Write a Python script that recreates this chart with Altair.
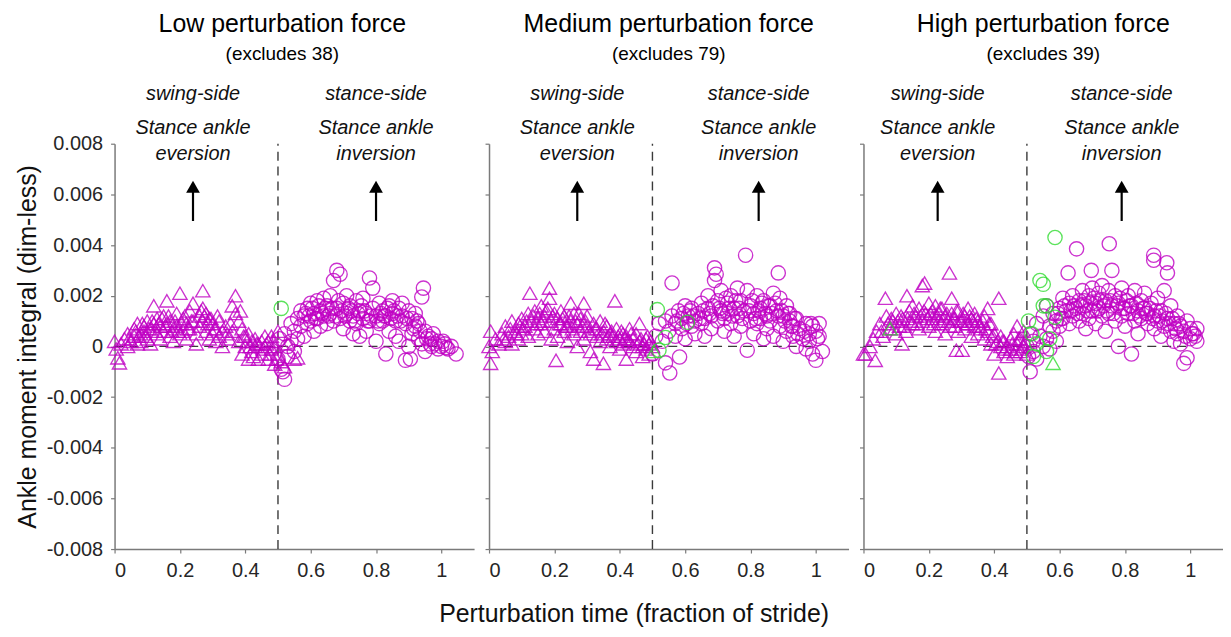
import altair as alt
import pandas as pd

FONT = "Liberation Sans"

# ---------------- data (t = fraction of stride, v = moment integral in 1e-3 units) ----------------
LOW_SWING = [(0.00,0.2),(0.005,-0.1),(0.01,-0.45),(0.015,-0.65),(0.02,0.1),(0.03,0.3),(0.04,0.0),(0.04,0.5),(0.05,0.2),(0.06,0.7),
 (0.06,0.4),(0.07,0.1),(0.07,0.9),(0.08,0.5),(0.08,0.2),(0.09,0.8),(0.09,0.6),(0.10,1.0),(0.10,0.3),(0.11,0.7),(0.11,0.1),(0.12,1.6),
 (0.12,0.9),(0.13,0.5),(0.13,1.1),(0.14,0.8),(0.14,0.3),(0.15,1.2),(0.15,0.6),(0.16,1.8),(0.16,0.9),(0.17,0.4),(0.17,1.0),(0.18,0.7),
 (0.18,0.2),(0.19,1.3),(0.19,0.8),(0.20,2.1),(0.20,0.5),(0.21,1.1),(0.21,0.6),(0.22,0.9),(0.22,0.3),(0.23,1.4),(0.23,0.7),(0.24,1.7),
 (0.24,1.0),(0.25,0.5),(0.25,0.1),(0.26,1.2),(0.26,0.8),(0.27,2.2),(0.27,1.5),(0.27,1.0),(0.28,1.3),(0.28,0.6),(0.29,1.1),(0.29,0.3),
 (0.30,0.9),(0.30,0.5),(0.31,0.7),(0.31,0.2),(0.32,1.0),(0.32,0.4),(0.33,0.6),(0.33,0.0),(0.34,0.8),(0.35,0.3),(0.36,1.6),(0.36,0.6),
 (0.37,2.0),(0.37,1.3),(0.38,1.0),(0.38,0.2),(0.39,0.7),(0.39,-0.3),(0.40,0.4),(0.40,0.0),(0.41,0.5),(0.41,-0.5),(0.42,0.2),(0.42,-0.2),
 (0.43,0.0),(0.43,0.3),(0.44,-0.5),(0.44,0.1),(0.45,0.2),(0.45,-0.3),(0.46,0.0),(0.46,0.4),(0.47,-0.5),(0.47,0.2),(0.48,-0.1),(0.48,0.4),
 (0.49,-0.7),(0.49,0.0),(0.50,-0.3),(0.50,0.6),(0.51,-0.6),(0.52,-0.8),(0.53,0.1),(0.55,-0.5),(0.56,-0.45),
 (0.045,0.3),(0.065,0.6),(0.075,0.4),(0.085,0.9),(0.095,0.4),(0.105,0.7),(0.115,1.0),(0.125,0.6),(0.135,0.9),(0.145,1.1),(0.155,0.8),
 (0.165,1.2),(0.175,0.6),(0.185,1.0),(0.195,0.6),(0.205,0.9),(0.215,1.2),(0.225,0.7),(0.235,1.0),(0.265,1.4),(0.275,1.2),(0.285,0.9),
 (0.295,1.1),(0.305,0.7),(0.315,1.2),(0.345,0.5),(0.355,0.9),(0.385,1.4),(0.395,0.4),(0.405,0.2),(0.415,0.0),(0.425,-0.4),(0.435,0.1),
 (0.455,-0.1),(0.465,0.1),(0.475,-0.3),(0.485,0.2),(0.495,-0.5)]
LOW_STANCE = [(0.50,-0.5),(0.505,0.3),(0.51,-0.9),(0.515,-1.0),(0.52,-1.3),(0.52,0.5),(0.53,0.0),(0.53,-0.4),(0.54,0.9),(0.54,0.2),
 (0.55,0.6),(0.55,-0.2),(0.56,1.1),(0.56,0.3),(0.57,0.8),(0.57,1.4),(0.58,1.2),(0.58,0.4),(0.59,1.5),(0.59,0.9),(0.60,1.0),(0.60,1.7),
 (0.61,1.3),(0.61,0.6),(0.62,1.8),(0.62,1.1),(0.63,1.4),(0.63,0.8),(0.64,1.9),(0.64,1.2),(0.65,1.6),(0.65,0.9),(0.66,2.0),(0.66,1.3),
 (0.67,2.6),(0.67,1.0),(0.68,3.0),(0.68,1.5),(0.69,2.85),(0.69,1.1),(0.70,1.7),(0.70,0.7),(0.71,1.3),(0.71,2.0),(0.72,1.0),(0.72,1.6),
 (0.73,0.5),(0.73,1.2),(0.74,1.8),(0.74,0.9),(0.75,1.4),(0.75,0.4),(0.76,1.1),(0.76,1.9),(0.77,1.3),(0.77,0.6),(0.78,2.7),(0.78,1.0),
 (0.79,2.3),(0.79,1.5),(0.80,1.2),(0.80,0.2),(0.81,1.7),(0.81,0.9),(0.82,1.4),(0.82,1.0),(0.83,-0.3),(0.83,1.2),(0.84,1.6),(0.84,0.6),
 (0.85,1.3),(0.85,1.8),(0.86,1.0),(0.86,0.4),(0.87,1.5),(0.87,0.2),(0.88,1.2),(0.88,1.7),(0.89,-0.55),(0.89,0.9),(0.90,1.4),(0.90,0.0),
 (0.905,-0.5),(0.91,1.1),(0.91,0.5),(0.92,0.8),(0.92,1.3),(0.93,0.3),(0.93,0.9),(0.94,1.95),(0.94,0.1),(0.945,2.3),(0.95,0.6),(0.95,-0.2),
 (0.96,0.4),(0.97,0.0),(0.97,0.3),(0.98,0.1),(0.99,-0.1),(0.99,0.2),(1.00,0.0),(1.01,0.1),(1.02,-0.1),(1.03,0.0),(1.045,-0.3),
 (0.585,1.3),(0.595,1.2),(0.605,1.5),(0.615,1.1),(0.625,1.6),(0.635,1.3),(0.645,1.5),(0.655,1.2),(0.665,1.5),(0.675,1.2),(0.685,1.8),
 (0.695,1.4),(0.705,1.2),(0.715,1.5),(0.725,1.4),(0.735,1.0),(0.745,1.3),(0.755,1.6),(0.765,1.4),(0.775,1.0),(0.785,1.2),(0.805,1.0),
 (0.815,1.3),(0.825,1.2),(0.835,1.5),(0.845,1.1),(0.855,1.4),(0.865,1.2),(0.875,1.0),(0.895,1.1),(0.915,0.7),(0.925,1.0),(0.935,0.6),
 (0.955,0.3),(0.965,0.1),(0.975,0.5),(1.005,0.2),(1.015,-0.05)]
LOW_GREEN_SWING = []
LOW_GREEN_STANCE = [(0.51,1.5)]

MED_SWING = [(0.00,0.0),(0.005,0.6),(0.005,-0.67),(0.01,-0.2),(0.02,0.3),(0.03,0.1),(0.04,0.5),(0.05,0.2),(0.05,0.8),(0.06,0.4),
 (0.07,1.0),(0.07,0.1),(0.08,0.6),(0.09,0.9),(0.09,0.3),(0.10,1.1),(0.10,0.5),(0.11,0.8),(0.12,1.3),(0.12,0.4),(0.125,2.1),(0.13,1.0),
 (0.14,0.7),(0.14,1.4),(0.15,1.1),(0.15,0.5),(0.16,1.6),(0.16,0.9),(0.17,1.2),(0.17,0.6),(0.18,1.5),(0.185,2.3),(0.185,1.9),(0.19,1.0),
 (0.19,0.3),(0.20,1.3),(0.20,0.7),(0.205,-0.55),(0.21,1.1),(0.21,0.4),(0.22,0.9),(0.22,1.4),(0.23,0.6),(0.23,1.2),(0.24,0.8),(0.24,0.2),
 (0.25,1.7),(0.25,1.0),(0.26,0.5),(0.26,1.3),(0.27,0.9),(0.27,0.0),(0.28,1.1),(0.28,0.6),(0.29,1.7),(0.29,0.3),(0.30,0.8),(0.30,1.2),
 (0.31,0.5),(0.31,-0.2),(0.32,-0.5),(0.32,0.9),(0.33,0.4),(0.33,0.7),(0.34,1.0),(0.34,0.2),(0.35,-0.67),(0.35,0.6),(0.36,0.3),(0.36,0.8),
 (0.37,0.5),(0.37,0.0),(0.385,1.8),(0.38,0.4),(0.39,0.2),(0.39,0.7),(0.40,0.3),(0.40,-0.1),(0.41,0.5),(0.41,0.1),(0.42,-0.5),(0.42,0.4),
 (0.43,0.2),(0.43,0.7),(0.44,0.0),(0.44,0.3),(0.45,0.5),(0.45,-0.2),(0.46,0.2),(0.46,0.9),(0.47,0.0),(0.47,-0.4),(0.48,0.3),(0.48,-0.1),
 (0.49,0.1),(0.49,-0.3),(0.50,0.0),
 (0.045,0.3),(0.065,0.7),(0.085,0.5),(0.095,0.8),(0.105,0.7),(0.115,1.0),(0.135,1.2),(0.145,0.9),(0.155,1.3),(0.165,1.0),(0.175,1.4),
 (0.195,1.2),(0.215,0.9),(0.225,1.1),(0.235,0.8),(0.245,1.2),(0.255,0.7),(0.265,1.0),(0.275,1.3),(0.285,0.8),(0.295,1.0),(0.305,0.6),
 (0.325,0.7),(0.345,0.5),(0.355,0.9),(0.365,0.4),(0.375,0.6),(0.395,0.4),(0.405,0.6),(0.415,0.3),(0.425,0.2),(0.435,0.5),(0.455,0.1),
 (0.465,0.3),(0.475,0.1),(0.485,0.4),(0.495,0.2)]
MED_STANCE = [(0.50,-0.3),(0.51,0.4),(0.52,0.9),(0.53,0.2),(0.54,-0.65),(0.54,1.0),(0.55,0.6),(0.553,-1.05),(0.56,2.5),(0.56,1.2),
 (0.57,0.4),(0.57,0.9),(0.58,1.4),(0.583,-0.42),(0.59,0.7),(0.59,1.1),(0.60,1.6),(0.60,0.3),(0.61,1.2),(0.62,0.8),(0.62,1.5),(0.63,1.0),
 (0.63,0.5),(0.64,1.3),(0.65,0.9),(0.65,1.7),(0.66,1.1),(0.66,0.4),(0.67,1.5),(0.67,2.0),(0.68,1.2),(0.68,0.7),(0.69,3.1),(0.69,2.6),
 (0.695,2.85),(0.70,1.8),(0.70,1.0),(0.71,1.4),(0.71,2.2),(0.72,1.1),(0.72,0.6),(0.73,1.7),(0.73,1.3),(0.74,2.0),(0.74,0.9),(0.75,1.5),
 (0.75,0.4),(0.76,1.2),(0.76,2.3),(0.77,1.8),(0.77,0.8),(0.78,1.4),(0.785,3.6),(0.79,-0.15),(0.79,2.2),(0.80,1.0),(0.80,1.6),(0.81,0.5),
 (0.81,1.3),(0.82,2.0),(0.82,0.9),(0.83,1.5),(0.83,1.1),(0.84,0.3),(0.84,1.8),(0.85,1.2),(0.85,0.7),(0.86,1.6),(0.86,1.0),(0.87,2.1),
 (0.87,0.4),(0.88,1.4),(0.885,2.9),(0.89,0.8),(0.89,1.9),(0.90,1.2),(0.90,0.2),(0.91,1.6),(0.91,0.6),(0.92,1.0),(0.92,1.3),(0.93,0.4),
 (0.93,0.8),(0.94,1.1),(0.94,0.0),(0.95,0.7),(0.96,0.3),(0.97,0.9),(0.97,-0.1),(0.98,0.5),(0.98,0.2),(0.99,0.8),(0.99,-0.3),(1.00,-0.55),
 (1.00,0.6),(1.01,0.4),(1.01,0.9),(1.02,-0.2),
 (0.575,1.0),(0.595,1.3),(0.605,0.9),(0.615,1.4),(0.625,1.2),(0.645,1.1),(0.655,1.4),(0.675,1.3),(0.685,1.6),(0.705,1.5),(0.715,1.3),
 (0.725,1.9),(0.735,1.5),(0.745,1.2),(0.755,1.8),(0.765,1.5),(0.775,1.1),(0.795,1.4),(0.805,1.8),(0.815,1.1),(0.825,1.4),(0.835,1.7),
 (0.845,1.3),(0.855,1.6),(0.865,1.3),(0.875,1.7),(0.885,1.2),(0.895,1.4),(0.905,1.0),(0.915,1.3),(0.925,0.8),(0.935,1.1),(0.945,0.5),
 (0.965,0.6),(0.985,0.9),(1.005,0.3)]
MED_GREEN_SWING = [(0.505,-0.2)]
MED_GREEN_STANCE = [(0.515,1.45),(0.54,0.35),(0.52,-0.15),(0.607,0.95)]

HIGH_SWING = [(0.00,-0.3),(0.006,-0.3),(0.02,0.0),(0.03,0.3),(0.036,-0.55),(0.04,0.6),(0.05,0.9),(0.06,0.4),(0.067,1.9),(0.07,1.2),
 (0.08,0.7),(0.09,1.0),(0.10,0.5),(0.10,1.3),(0.11,0.8),(0.118,0.1),(0.12,1.1),(0.13,0.6),(0.133,2.0),(0.14,1.4),(0.15,0.9),(0.15,1.6),
 (0.16,1.2),(0.17,0.7),(0.17,1.5),(0.18,2.4),(0.187,2.5),(0.18,1.0),(0.19,1.3),(0.20,0.8),(0.20,1.7),(0.21,1.1),(0.21,1.4),(0.22,0.6),
 (0.22,1.6),(0.23,1.0),(0.23,1.3),(0.24,0.9),(0.24,1.5),(0.25,1.2),(0.25,0.5),(0.263,2.9),(0.26,1.0),(0.27,1.9),(0.27,1.3),(0.28,0.8),
 (0.28,1.1),(0.284,-0.15),(0.29,1.4),(0.29,0.6),(0.30,1.0),(0.302,-0.15),(0.31,1.2),(0.31,0.7),(0.32,0.9),(0.32,1.5),(0.33,1.1),(0.33,0.4),
 (0.34,0.8),(0.34,1.3),(0.35,1.0),(0.35,0.5),(0.36,0.7),(0.37,1.2),(0.37,0.3),(0.38,0.6),(0.38,1.5),(0.39,0.9),(0.39,0.1),(0.40,0.5),
 (0.40,-0.3),(0.41,0.2),(0.414,1.9),(0.414,-1.05),(0.42,0.0),(0.42,0.4),(0.43,-0.2),(0.43,0.2),(0.44,0.0),(0.44,-0.4),(0.45,0.3),(0.45,-0.1),
 (0.46,0.5),(0.46,-0.3),(0.47,0.1),(0.47,0.8),(0.48,-0.2),(0.48,0.3),(0.49,0.0),(0.49,0.6),(0.50,-0.3),
 (0.055,0.6),(0.075,0.9),(0.085,1.1),(0.095,0.7),(0.105,1.0),(0.115,1.2),(0.125,0.8),(0.135,1.1),(0.145,1.0),(0.155,1.3),(0.165,0.9),
 (0.175,1.2),(0.185,1.4),(0.195,1.1),(0.205,1.3),(0.215,0.9),(0.225,1.2),(0.235,1.5),(0.245,1.1),(0.255,1.3),(0.265,0.8),(0.275,1.1),
 (0.285,1.4),(0.295,1.0),(0.305,1.3),(0.315,0.9),(0.325,1.2),(0.335,1.0),(0.345,1.1),(0.355,0.8),(0.365,1.0),(0.375,0.7),(0.385,0.9),
 (0.395,0.4),(0.405,0.1),(0.425,0.2),(0.435,-0.1),(0.455,0.1),(0.465,-0.2),(0.475,0.3),(0.485,-0.1),(0.495,0.2)]
HIGH_STANCE = [(0.50,0.0),(0.505,-0.4),(0.51,-1.0),(0.51,0.5),(0.52,0.2),(0.52,-0.2),(0.53,0.9),(0.53,-0.5),(0.54,0.4),(0.55,1.2),
 (0.55,0.0),(0.56,1.6),(0.56,0.3),(0.57,0.8),(0.57,-0.1),(0.58,1.3),(0.58,0.6),(0.59,1.0),(0.59,0.2),(0.60,1.5),(0.60,0.8),(0.61,1.9),
 (0.61,1.1),(0.62,1.4),(0.626,2.9),(0.63,0.9),(0.63,1.7),(0.64,1.2),(0.64,2.0),(0.65,1.5),(0.652,3.85),(0.66,1.0),(0.66,1.8),(0.67,2.2),
 (0.67,1.3),(0.68,1.6),(0.68,0.7),(0.69,2.0),(0.69,1.1),(0.697,3.0),(0.70,1.4),(0.70,2.3),(0.71,1.7),(0.71,0.9),(0.72,2.1),(0.72,1.5),
 (0.73,1.2),(0.73,2.4),(0.74,1.8),(0.74,0.6),(0.75,2.2),(0.752,4.05),(0.75,1.3),(0.76,3.0),(0.76,1.6),(0.77,2.0),(0.77,1.0),(0.78,0.0),
 (0.78,1.7),(0.79,2.3),(0.79,1.2),(0.80,1.5),(0.80,0.8),(0.81,2.0),(0.81,1.3),(0.82,-0.3),(0.82,1.6),(0.83,2.2),(0.83,1.0),(0.84,1.4),
 (0.84,0.5),(0.85,1.8),(0.85,1.1),(0.86,1.5),(0.86,2.1),(0.87,0.9),(0.87,1.3),(0.88,1.7),(0.888,3.6),(0.888,3.4),(0.89,0.7),(0.89,1.2),
 (0.90,1.9),(0.90,1.0),(0.91,1.4),(0.91,0.4),(0.92,2.2),(0.92,0.8),(0.928,3.3),(0.93,2.9),(0.93,1.1),(0.94,0.6),(0.94,1.6),(0.95,0.9),
 (0.95,0.2),(0.96,1.2),(0.96,0.5),(0.97,0.8),(0.97,0.1),(0.98,-0.67),(0.98,0.6),(0.99,-0.45),(0.99,1.0),(1.00,0.3),(1.00,0.7),(1.01,0.5),
 (1.02,0.2),(1.02,0.7),
 (0.595,1.3),(0.605,1.1),(0.615,1.6),(0.635,1.4),(0.645,1.6),(0.655,1.3),(0.665,1.6),(0.675,1.8),(0.685,1.4),(0.695,1.7),(0.705,1.9),
 (0.715,1.4),(0.725,1.8),(0.735,1.6),(0.745,1.4),(0.755,1.8),(0.765,1.3),(0.775,1.6),(0.785,1.9),(0.795,1.5),(0.805,1.8),(0.815,1.6),
 (0.825,1.3),(0.835,1.7),(0.845,1.2),(0.855,1.5),(0.865,1.3),(0.875,1.5),(0.885,1.1),(0.895,1.4),(0.905,1.2),(0.915,1.0),(0.925,1.3),
 (0.935,0.9),(0.945,1.1),(0.955,0.7),(0.965,0.9),(0.985,0.4),(1.005,0.5),(1.015,0.4)]
HIGH_GREEN_SWING = [(0.082,0.7),(0.58,-0.67)]
HIGH_GREEN_STANCE = [(0.586,4.3),(0.54,2.6),(0.55,2.45),(0.55,1.6),(0.586,1.15),(0.505,1.0),(0.515,0.5),(0.53,0.1),
 (0.56,-0.2),(0.52,-0.4),(0.57,0.3),(0.56,1.6)]

TITLES = ["Low perturbation force", "Medium perturbation force", "High perturbation force"]
SUBTITLES = ["(excludes 38)", "(excludes 79)", "(excludes 39)"]
SWING_X = [0.24, 0.27, 0.227]
STANCE_X = [0.80, 0.825, 0.79]
ANN_SWING = ["swing-side", "Stance ankle", "eversion"]
ANN_STANCE = ["stance-side", "Stance ankle", "inversion"]
ANN_Y = [9.95, 8.61, 7.59]          # 1e-3 units
ARROW_TAIL, ARROW_HEAD = 4.95, 6.3  # 1e-3 units

Y_TICKS = [-0.008, -0.006, -0.004, -0.002, 0, 0.002, 0.004, 0.006, 0.008]
X_TICKS = [0, 0.2, 0.4, 0.6, 0.8, 1]

MAGENTA = "#c000c4"
GREEN = "#33dd33"
AXIS_GRAY = "#7a7a7a"


def rows(pts, side, grp):
    return [{"t": t, "v": v * 1e-3, "side": side, "grp": grp} for t, v in pts]


def panel(i, swing, stance, gswing, gstance, show_y):
    recs = rows(swing, "swing", "main") + rows(stance, "stance", "main") + \
        rows(gswing, "swing", "green") + rows(gstance, "stance", "green")
    df = pd.DataFrame(recs)

    xs = alt.Scale(domain=[0, 1.1], nice=False, zero=False)
    ys = alt.Scale(domain=[-0.008, 0.008], nice=False, zero=False)
    xaxis = alt.Axis(values=X_TICKS, format="~g", title=None, grid=False)
    if show_y:
        yaxis = alt.Axis(values=Y_TICKS, grid=False,
                         labelExpr="datum.value == 0 ? '0' : replace(format(datum.value, '.3f'), '\u2212', '-')",
                         title="Ankle moment integral (dim-less)")
    else:
        yaxis = alt.Axis(values=Y_TICKS, grid=False, labels=False, title=None)

    pts = alt.Chart(df).mark_point(filled=False, size=205, strokeWidth=1.35, opacity=0.8).encode(
        x=alt.X("t:Q", scale=xs, axis=xaxis),
        y=alt.Y("v:Q", scale=ys, axis=yaxis),
        shape=alt.Shape("side:N", scale=alt.Scale(domain=["swing", "stance"], range=["triangle-up", "circle"]), legend=None),
        color=alt.Color("grp:N", scale=alt.Scale(domain=["main", "green"], range=[MAGENTA, GREEN]), legend=None),
    )

    hline = alt.Chart(pd.DataFrame({"x": [0], "x2": [1], "y": [0]})).mark_rule(
        strokeDash=[9, 6], color="#3a3a3a", strokeWidth=1.4).encode(
        x=alt.X("x:Q", scale=xs), x2="x2:Q", y=alt.Y("y:Q", scale=ys))
    vline = alt.Chart(pd.DataFrame({"x": [0.5], "y": [-0.008], "y2": [0.008]})).mark_rule(
        strokeDash=[9, 6], color="#3a3a3a", strokeWidth=1.4).encode(
        x=alt.X("x:Q", scale=xs), y=alt.Y("y:Q", scale=ys), y2="y2:Q")

    ann = pd.DataFrame(
        [{"x": SWING_X[i], "y": y * 1e-3, "label": s} for s, y in zip(ANN_SWING, ANN_Y)] +
        [{"x": STANCE_X[i], "y": y * 1e-3, "label": s} for s, y in zip(ANN_STANCE, ANN_Y)])
    text = alt.Chart(ann).mark_text(font=FONT, fontSize=20, fontStyle="italic", color="#111",
                                    align="center", baseline="middle").encode(
        x=alt.X("x:Q", scale=xs), y=alt.Y("y:Q", scale=ys), text="label:N")

    arr = pd.DataFrame({"x": [SWING_X[i], STANCE_X[i]], "y": [ARROW_TAIL * 1e-3] * 2,
                        "y2": [ARROW_HEAD * 1e-3 - 0.0002] * 2, "yh": [ARROW_HEAD * 1e-3] * 2})
    shaft = alt.Chart(arr).mark_rule(color="black", strokeWidth=2.2).encode(
        x=alt.X("x:Q", scale=xs), y=alt.Y("y:Q", scale=ys), y2="y2:Q")
    head = alt.Chart(arr).mark_point(shape="triangle-up", filled=True, color="black", size=190, opacity=1).encode(
        x=alt.X("x:Q", scale=xs), y=alt.Y("yh:Q", scale=ys))

    return alt.layer(hline, vline, pts, text, shaft, head).properties(
        width=361, height=407,
        title=alt.TitleParams(TITLES[i], subtitle=SUBTITLES[i], fontSize=25, subtitleFontSize=19,
                              font=FONT, subtitleFont=FONT, fontWeight="normal", color="black",
                              subtitleColor="black", anchor="middle", frame="group",
                              subtitlePadding=9, offset=20, dx=-12 if i == 0 else 0))


p1 = panel(0, LOW_SWING, LOW_STANCE, LOW_GREEN_SWING, LOW_GREEN_STANCE, True)
p2 = panel(1, MED_SWING, MED_STANCE, MED_GREEN_SWING, MED_GREEN_STANCE, False)
p3 = panel(2, HIGH_SWING, HIGH_STANCE, HIGH_GREEN_SWING, HIGH_GREEN_STANCE, False)

chart = alt.hconcat(p1, p2, p3, spacing=5).properties(
    padding={"left": 7, "right": 0, "top": 2, "bottom": 0},
    title=alt.TitleParams("Perturbation time (fraction of stride)", orient="bottom", anchor="middle",
                          fontSize=25, font=FONT, fontWeight="normal", color="#111", offset=21, dx=15),
).configure_view(stroke=None).configure_axis(
    domainColor=AXIS_GRAY, domainWidth=1.5, tickColor=AXIS_GRAY, tickSize=4, tickWidth=1.2,
    labelFont=FONT, labelFontSize=20, labelColor="#262626", labelPadding=8,
    titleFont=FONT, titleFontSize=25, titleFontWeight="normal", titleColor="#111", titlePadding=6,
)

chart.save("out.html", embed_options={"renderer": "svg", "actions": False})
